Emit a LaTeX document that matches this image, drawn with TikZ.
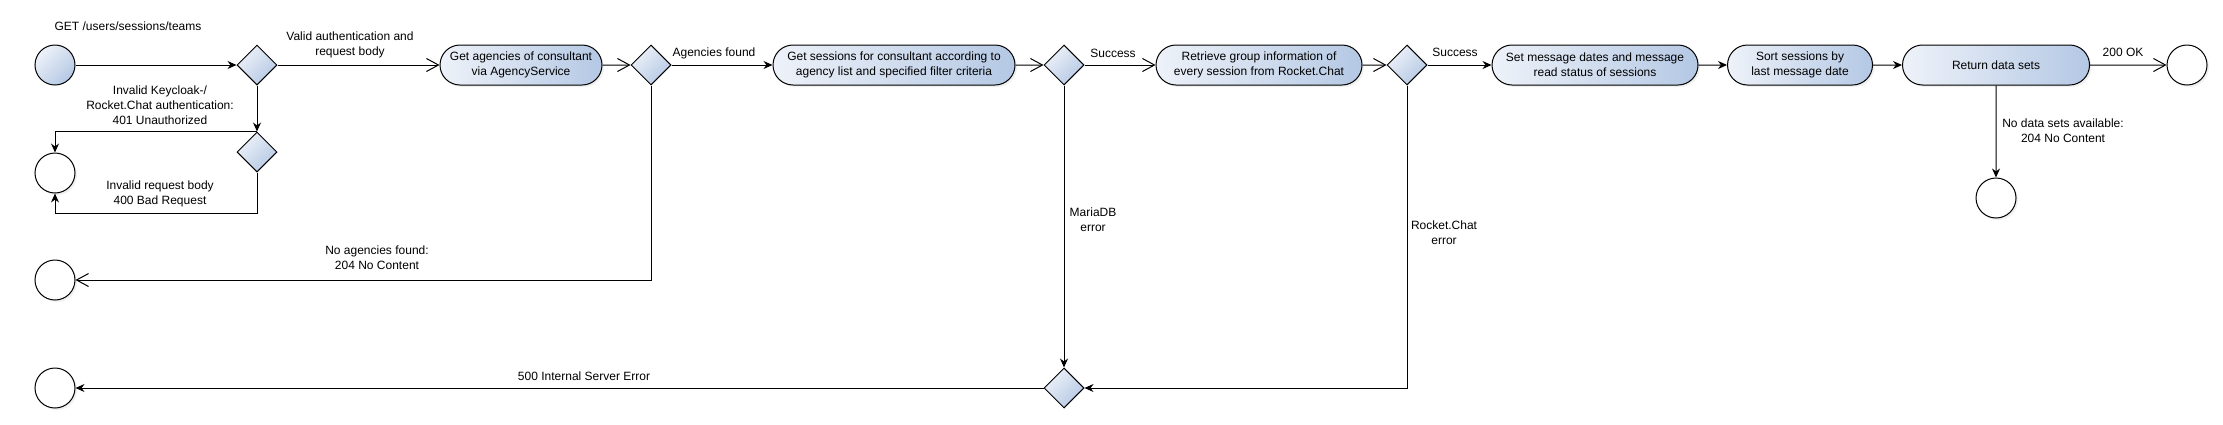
\documentclass[tikz,border=0pt]{standalone}
\usepackage{fontspec}
\setmainfont{Liberation Sans}
\usetikzlibrary{arrows.meta,shapes.geometric,shapes.misc,shadows}

\definecolor{fillhi}{HTML}{EEF2F9}
\definecolor{filllo}{HTML}{B4C8E4}

\tikzset{
  act/.style={rounded rectangle, draw, line width=1pt, minimum height=40pt, inner sep=0pt,
    left color=fillhi, right color=filllo, align=center,
    drop shadow={shadow xshift=2pt, shadow yshift=-2pt, opacity=0.12}},
  dec/.style={diamond, draw, line width=1pt, minimum width=40pt, minimum height=40pt, inner sep=0pt,
    left color=fillhi, right color=filllo, shading angle=45},
  startc/.style={circle, draw, line width=1pt, minimum size=40pt, inner sep=0pt,
    left color=fillhi, right color=filllo, shading angle=45},
  endc/.style={circle, draw, line width=1pt, minimum size=40pt, inner sep=0pt, fill=white,
    drop shadow={shadow xshift=2pt, shadow yshift=-2pt, opacity=0.12}},
  flw/.style={line width=1pt, -{Stealth[length=9pt,width=8pt]}},
  opn/.style={line width=1pt, -{Straight Barb[length=12pt,width=13pt,line width=1pt]}}
}

\begin{document}
\begin{tikzpicture}[x=1pt,y=-1pt,font=\fontsize{12}{15}\selectfont]
\useasboundingbox (0,0) rectangle (2223,424);

\node[startc] (start) at (55,65) {};
\node[dec] (auth) at (257,65) {};
\node[dec] (body) at (257,152) {};
\node[endc] (endauth) at (55,173) {};
\node[act, minimum width=162pt] (agencies) at (521,65) {Get agencies of consultant\\via AgencyService};
\node[dec] (agfound) at (651,65) {};
\node[act, minimum width=242pt] (sessions) at (894,65) {Get sessions for consultant according to\\agency list and specified filter criteria};
\node[dec] (dbok) at (1064,65) {};
\node[act, minimum width=206pt] (rcinfo) at (1259,65) {Retrieve group information of\\every session from Rocket.Chat};
\node[dec] (rcok) at (1407,65) {};
\node[act, minimum width=206pt] (msgdates) at (1595,65) {Set message dates and message\\read status of sessions};
\node[act, minimum width=145pt] (sorting) at (1800,65) {Sort sessions by\\last message date};
\node[act, minimum width=187pt] (result) at (1996,65) {Return data sets};
\node[endc] (endok) at (2187,65) {};
\node[endc] (endempty) at (1996,198) {};
\node[endc] (endnoag) at (55,280) {};
\node[dec] (errors) at (1064,388) {};
\node[endc] (enderr) at (55,388) {};

\draw[flw] (start) -- (auth);
\draw[opn] (auth) -- (agencies);
\draw[flw] (auth) -- (body);
\draw[flw] (body.north) -| (endauth.north);
\draw[flw] (body.south) -- ++(0,41) -| (endauth.south);
\draw[opn] (agencies) -- (agfound);
\draw[flw] (agfound) -- (sessions);
\draw[opn] (agfound.south) |- (endnoag);
\draw[opn] (sessions) -- (dbok);
\draw[opn] (dbok) -- (rcinfo);
\draw[flw] (dbok) -- (errors);
\draw[opn] (rcinfo) -- (rcok);
\draw[flw] (rcok) -- (msgdates);
\draw[flw] (rcok.south) |- (errors);
\draw[flw] (msgdates) -- (sorting);
\draw[flw] (sorting) -- (result);
\draw[opn] (result) -- (endok);
\draw[flw] (result) -- (endempty);
\draw[flw] (errors) -- (enderr);

\node (lget) at (128,26) {GET /users/sessions/teams};
\node[align=center] (lvalid) at (350,45) {Valid authentication and\\request body};
\node[align=center] (l401) at (160,105) {Invalid Keycloak-/\\Rocket.Chat authentication:\\401 Unauthorized};
\node[align=center] (l400) at (160,194) {Invalid request body\\400 Bad Request};
\node (lagfound) at (714,53) {Agencies found};
\node (lsucc1) at (1113,53) {Success};
\node (lsucc2) at (1455,52) {Success};
\node (lok) at (2123,52) {200 OK};
\node[align=center] (lempty) at (2063,131) {No data sets available:\\204 No Content};
\node[align=center] (lnoag) at (377,258) {No agencies found:\\204 No Content};
\node (lerr) at (584,376) {500 Internal Server Error};
\node[align=center] (ldb) at (1093,220) {MariaDB\\error};
\node[align=center] (lrc) at (1444,233) {Rocket.Chat\\error};
\end{tikzpicture}
\end{document}
